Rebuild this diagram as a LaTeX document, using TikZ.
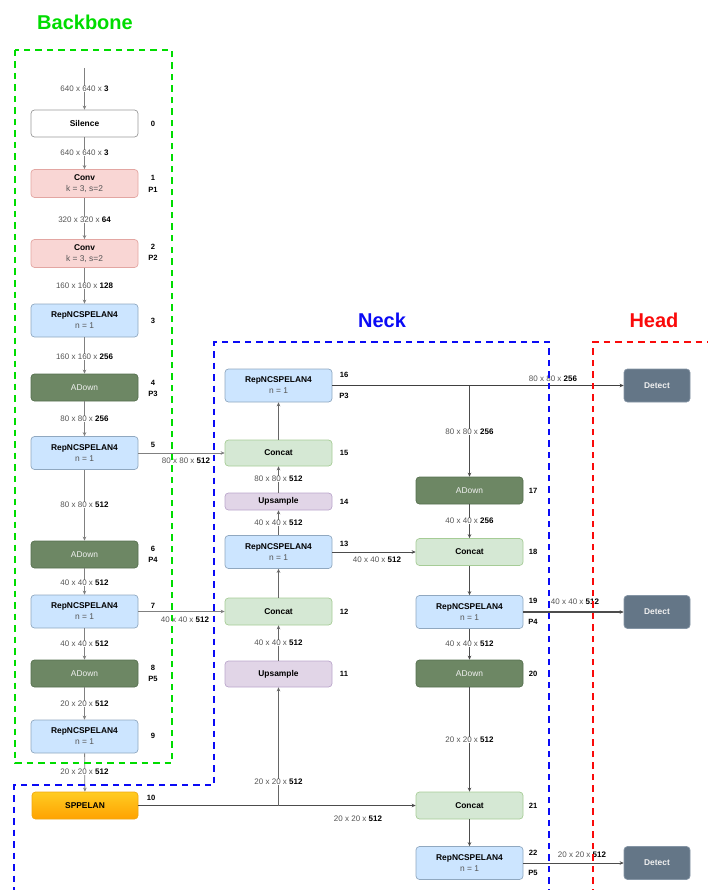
\documentclass[tikz,border=0pt]{standalone}
\usepackage{fontspec}
\setmainfont{Liberation Sans}
\usetikzlibrary{arrows.meta}

\definecolor{bbgreen}{RGB}{0,220,0}
\definecolor{nkblue}{RGB}{10,10,245}
\definecolor{hdred}{RGB}{250,10,10}
\definecolor{dimgray}{RGB}{85,85,85}
\definecolor{convfill}{HTML}{F9D6D4}
\definecolor{convline}{HTML}{E3A6A2}
\definecolor{repfill}{HTML}{CCE5FF}
\definecolor{repline}{HTML}{90A8C0}
\definecolor{adfill}{HTML}{6D8764}
\definecolor{adline}{HTML}{56704E}
\definecolor{catfill}{HTML}{D5E8D4}
\definecolor{catline}{HTML}{A6CC96}
\definecolor{upfill}{HTML}{E1D5E7}
\definecolor{upline}{HTML}{BBA6CB}
\definecolor{detfill}{HTML}{647687}
\definecolor{detline}{HTML}{8595A5}
\definecolor{spptop}{HTML}{FFCC22}
\definecolor{sppbot}{HTML}{FFA200}
\definecolor{sppline}{HTML}{F0A810}

\newcommand{\fmap}[3]{{\color{dimgray}#1 x #2 x }\textbf{#3}}

\tikzset{
  blk/.style={rounded corners=3.5pt, line width=0.7pt, inner sep=0pt, align=center,
    minimum width=107pt, font=\fontsize{8.4}{11}\selectfont},
  silence/.style={blk, draw=black!40, fill=white, minimum height=27pt},
  conv/.style={blk, draw=convline, fill=convfill, minimum height=28pt},
  rep/.style={blk, draw=repline, fill=repfill, minimum height=33pt},
  adown/.style={blk, draw=adline, fill=adfill, text=white!88!gray, minimum height=27pt},
  concat/.style={blk, draw=catline, fill=catfill, minimum height=27pt},
  upsmp/.style={blk, draw=upline, fill=upfill, minimum height=26pt},
  spp/.style={blk, draw=sppline, top color=spptop, bottom color=sppbot, minimum width=106pt, minimum height=27pt},
  detect/.style={blk, draw=detline, fill=detfill, text=white!88!gray, minimum width=66pt, minimum height=33pt},
  flow/.style={draw=black!50, line width=0.8pt, -{Stealth[length=4pt,width=3.6pt]}},
  dim/.style={fill=white, inner sep=0.6pt, font=\fontsize{8}{9}\selectfont},
  dimfree/.style={inner sep=0.6pt, font=\fontsize{8}{9}\selectfont},
  idx/.style={inner sep=0pt, font=\fontsize{7.6}{9}\selectfont\bfseries},
  region/.style={dashed, line width=2pt, dash pattern=on 6.5pt off 5pt},
  title/.style={font=\fontsize{20}{24}\selectfont\bfseries}
}

\begin{document}
\begin{tikzpicture}[x=1pt, y=-1pt]
  \useasboundingbox (0,0) rectangle (707,890);

  \node[title, text=bbgreen] (tback) at (85,22) {Backbone};
  \node[title, text=nkblue] (tneck) at (382,320) {Neck};
  \node[title, text=hdred] (thead) at (654,320) {Head};

  \node[silence] (b0) at (84.5,123.5) {\textbf{Silence}};
  \node[conv] (b1) at (84.5,183.5) {\textbf{Conv}\\{\color{dimgray}k = 3, s=2}};
  \node[conv] (b2) at (84.5,253.5) {\textbf{Conv}\\{\color{dimgray}k = 3, s=2}};
  \node[rep] (b3) at (84.5,320.5) {\textbf{RepNCSPELAN4}\\{\color{dimgray}n = 1}};
  \node[adown] (b4) at (84.5,387.5) {ADown};
  \node[rep] (b5) at (84.5,453) {\textbf{RepNCSPELAN4}\\{\color{dimgray}n = 1}};
  \node[adown] (b6) at (84.5,554.5) {ADown};
  \node[rep] (b7) at (84.5,611.5) {\textbf{RepNCSPELAN4}\\{\color{dimgray}n = 1}};
  \node[adown] (b8) at (84.5,673.5) {ADown};
  \node[rep] (b9) at (84.5,736.5) {\textbf{RepNCSPELAN4}\\{\color{dimgray}n = 1}};
  \node[spp] (b10) at (85,805.5) {\textbf{SPPELAN}};

  \node[upsmp] (n11) at (278.5,674) {\textbf{Upsample}};
  \node[concat] (n12) at (278.5,611.5) {\textbf{Concat}};
  \node[rep] (n13) at (278.5,552) {\textbf{RepNCSPELAN4}\\{\color{dimgray}n = 1}};
  \node[upsmp, minimum height=17pt] (n14) at (278.5,501.5) {\textbf{Upsample}};
  \node[concat, minimum height=26pt] (n15) at (278.5,453) {\textbf{Concat}};
  \node[rep] (n16) at (278.5,385.5) {\textbf{RepNCSPELAN4}\\{\color{dimgray}n = 1}};
  \node[adown] (n17) at (469.5,490.5) {ADown};
  \node[concat] (n18) at (469.5,552) {\textbf{Concat}};
  \node[rep] (n19) at (469.5,612) {\textbf{RepNCSPELAN4}\\{\color{dimgray}n = 1}};
  \node[adown] (n20) at (469.5,673.5) {ADown};
  \node[concat] (n21) at (469.5,805.5) {\textbf{Concat}};
  \node[rep] (n22) at (469.5,863) {\textbf{RepNCSPELAN4}\\{\color{dimgray}n = 1}};

  \node[detect] (h1) at (657,385.5) {\textbf{Detect}};
  \node[detect] (h2) at (657,612) {\textbf{Detect}};
  \node[detect] (h3) at (657,863) {\textbf{Detect}};

  \coordinate (in) at (84.5,68);
  \draw[flow] (in) -- (b0);
  \foreach \a/\b in {b0/b1, b1/b2, b2/b3, b3/b4, b4/b5, b5/b6, b6/b7, b7/b8, b8/b9, b9/b10}
    \draw[flow] (\a) -- (\b);
  \draw[flow] (b5.east) -- (n15.west);
  \draw[flow] (b7.east) -- (n12.west);

  \draw[flow, draw=black!70] (b10.east) -- (n21.west);
  \draw[flow, draw=black!60] (b10.east -| n11.south) -- (n11.south);
  \foreach \a/\b in {n11/n12, n12/n13, n13/n14, n14/n15, n15/n16}
    \draw[flow, draw=black!60] (\a) -- (\b);
  \draw[flow, draw=black!70] (n13.east) -- (n18.west);
  \draw[flow, draw=black!75] (n16.east) -- (h1.west);
  \draw[flow, draw=black!70] (n16.east -| n17.north) -- (n17.north);
  \foreach \a/\b in {n17/n18, n18/n19, n19/n20, n20/n21, n21/n22}
    \draw[flow, draw=black!70] (\a) -- (\b);
  \draw[flow, draw=black!70, line width=1.5pt] (n19.east) -- (h2.west);
  \draw[flow, draw=black!70] (n22.east) -- (h3.west);

  \foreach \x/\y/\a/\b [count=\k] in {84.5/89/640/3, 84.5/153/640/3, 84.5/220/320/64, 84.5/286/160/128,
      84.5/357/160/256, 84.5/419/80/256, 84.5/505/80/512, 84.5/583/40/512, 84.5/644/40/512,
      84.5/704/20/512, 84.5/772/20/512, 186/461/80/512, 185/620/40/512,
      278.5/479/80/512, 278.5/523/40/512, 377/560/40/512, 278.5/643/40/512, 278.5/782/20/512,
      358/819/20/512, 469.5/432/80/256, 469.5/521/40/256, 469.5/644/40/512, 469.5/740/20/512}
    \node[dim] (d\k) at (\x,\y) {\fmap{\a}{\a}{\b}};

  \foreach \x/\y/\a/\b [count=\k] in {553/379/80/256, 575/602/40/512, 582/855/20/512}
    \node[dimfree] (e\k) at (\x,\y) {\fmap{\a}{\a}{\b}};

  \foreach \x/\y/\t [count=\k] in {153/124/0, 153/178/1, 153/190/P1, 153/247/2, 153/258/P2, 153/321/3,
      153/383/4, 153/394/P3, 153/445/5, 153/549/6, 153/560/P4, 153/606/7, 153/668/8, 153/679/P5,
      153/736/9, 151/798/10,
      344/375/16, 344/396/P3, 344/453/15, 344/502/14, 344/544/13, 344/612/12, 344/674/11,
      533/491/17, 533/552/18, 533/601/19, 533/622/P4, 533/674/20, 533/806/21, 533/853/22, 533/873/P5}
    \node[idx] (i\k) at (\x,\y) {\t};

  \draw[region, draw=bbgreen] (15,50) rectangle (172,763);
  \draw[region, draw=nkblue] (549,895) -- (549,342) -- (214,342) -- (214,785) -- (14,785) -- (14,895);
  \draw[region, draw=hdred] (593,895) -- (593,342) -- (712,342);
\end{tikzpicture}
\end{document}
